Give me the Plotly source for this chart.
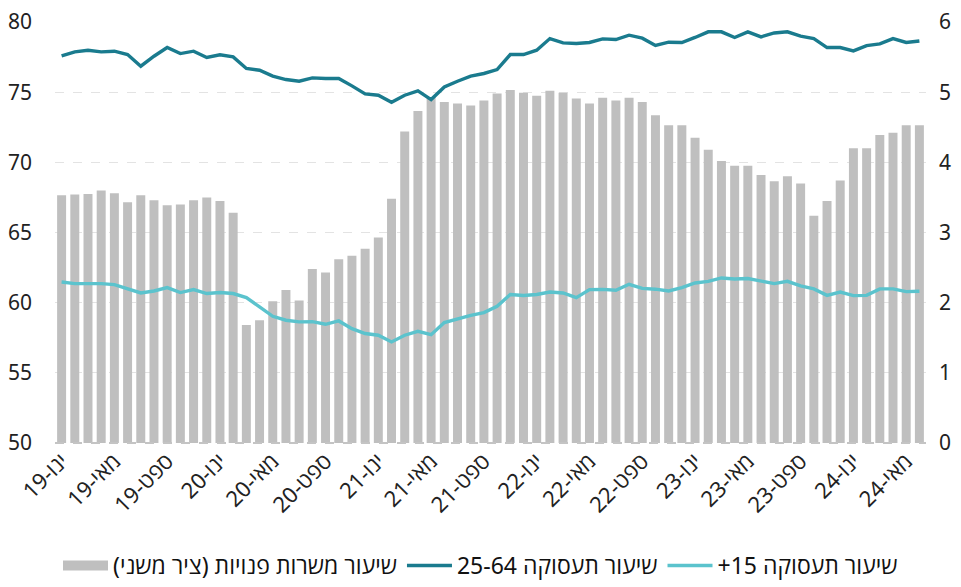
import plotly.graph_objects as go

month_names = ["ינו", "פבר", "מרץ", "אפר", "מאי", "יונ", "יול", "אוג", "ספט", "אוק", "נוב", "דצמ"]
years = ["19", "20", "21", "22", "23", "24"]
n_months = 66
categories = [f"{month_names[i % 12]}-{years[i // 12]}" for i in range(n_months)]

# job vacancy rate (secondary axis, right)
vacancy = [3.53, 3.54, 3.55, 3.60, 3.56, 3.43, 3.53, 3.46, 3.39, 3.40, 3.46, 3.50,
           3.45, 3.28, 1.68, 1.75, 2.02, 2.18, 2.03, 2.48, 2.43, 2.62, 2.67, 2.77,
           2.93, 3.48, 4.44, 4.73, 4.93, 4.86, 4.84, 4.81, 4.88, 4.98, 5.03, 4.99,
           4.95, 5.02, 4.99, 4.91, 4.84, 4.92, 4.88, 4.92, 4.86, 4.67, 4.53, 4.53,
           4.35, 4.18, 4.02, 3.95, 3.95, 3.82, 3.73, 3.80, 3.70, 3.24, 3.45, 3.74,
           4.20, 4.20, 4.39, 4.42, 4.53, 4.53]

# employment rate 25-64
emp_25_64 = [77.58, 77.87, 77.99, 77.87, 77.92, 77.68, 76.85, 77.56, 78.18, 77.75, 77.92, 77.47,
             77.66, 77.51, 76.69, 76.56, 76.14, 75.90, 75.78, 76.02, 75.97, 75.97, 75.45, 74.88,
             74.78, 74.28, 74.78, 75.09, 74.47, 75.37, 75.78, 76.14, 76.33, 76.61, 77.68, 77.68,
             77.99, 78.82, 78.51, 78.47, 78.54, 78.80, 78.75, 79.06, 78.85, 78.33, 78.56, 78.54,
             78.90, 79.30, 79.30, 78.90, 79.30, 78.94, 79.22, 79.30, 78.99, 78.82, 78.18, 78.18,
             77.94, 78.32, 78.44, 78.82, 78.54, 78.65]

# employment rate 15+
emp_15 = [61.47, 61.36, 61.36, 61.36, 61.29, 61.00, 60.69, 60.83, 61.07, 60.72, 60.93, 60.65,
          60.72, 60.65, 60.36, 59.70, 59.03, 58.75, 58.63, 58.65, 58.46, 58.70, 58.15, 57.80,
          57.68, 57.20, 57.68, 57.96, 57.72, 58.58, 58.87, 59.10, 59.29, 59.74, 60.58, 60.51,
          60.58, 60.76, 60.69, 60.36, 60.93, 60.95, 60.88, 61.31, 61.02, 60.96, 60.83, 61.07,
          61.40, 61.52, 61.76, 61.69, 61.72, 61.55, 61.36, 61.52, 61.19, 60.98, 60.52, 60.76,
          60.50, 60.52, 60.98, 60.98, 60.79, 60.81]

tick_step = 4
left_ticks = [50, 55, 60, 65, 70, 75, 80]
right_ticks = [0, 1, 2, 3, 4, 5, 6]

RLM = "\u200f"
name_vac = "שיעור משרות פנויות (ציר משני)" + RLM
name_2564 = "שיעור תעסוקה 25-64" + RLM
name_15 = "שיעור תעסוקה 15+" + RLM

FONT = "Noto Sans, Open Sans, DejaVu Sans, sans-serif"
GREY = "#bfbfbf"
DARK = "#1a7b8e"
LIGHT = "#5bc3cd"

fig = go.Figure()
# bars on primary (right side) axis so that lines (overlay axis) are drawn on top
fig.add_trace(go.Bar(x=categories, y=vacancy, name=name_vac, yaxis="y",
                     marker=dict(color=GREY, line=dict(width=0)), showlegend=False))
# legend stand-in for the bars: a wide grey block
fig.add_trace(go.Scatter(x=[None], y=[None], name=name_vac, mode="lines", yaxis="y",
                         line=dict(color=GREY, width=22)))
fig.add_trace(go.Scatter(x=categories, y=emp_25_64, name=name_2564, mode="lines", yaxis="y2",
                         line=dict(color=DARK, width=3.4)))
fig.add_trace(go.Scatter(x=categories, y=emp_15, name=name_15, mode="lines", yaxis="y2",
                         line=dict(color=LIGHT, width=3.4)))

fig.update_layout(
    width=961, height=587,
    margin=dict(l=55, r=35, t=22, b=144, autoexpand=False),
    plot_bgcolor="white", paper_bgcolor="white",
    font=dict(family=FONT, size=19, color="#222222"),
    bargap=0.32,
    showlegend=True,
    legend=dict(orientation="h", x=0.5, xanchor="center", xref="container",
                y=-0.034, yanchor="bottom", yref="container",
                font=dict(size=23, color="#111111"), traceorder="normal", itemwidth=45,
                bgcolor="rgba(0,0,0,0)"),
    xaxis=dict(
        type="category",
        range=[-0.5, n_months - 0.5],
        tickmode="array",
        tickvals=categories[::tick_step],
        ticktext=categories[::tick_step],
        showgrid=False, zeroline=False, showline=False, ticks="",
        tickfont=dict(size=22), automargin=False,
    ),
    yaxis=dict(
        range=[0, 6], tickvals=right_ticks, side="right",
        showgrid=True, gridcolor="#e3e3e3", griddash="dash", gridwidth=1,
        zeroline=False, showline=False, ticks="",
        tickfont=dict(size=21), ticklabelstandoff=12, automargin=False,
    ),
    yaxis2=dict(
        range=[50, 80], tickvals=left_ticks, side="left", overlaying="y",
        showgrid=False, zeroline=False, showline=False, ticks="",
        tickfont=dict(size=21), ticklabelstandoff=22, automargin=False,
    ),
    shapes=[dict(type="line", xref="paper", yref="paper", x0=0, x1=1, y0=0, y1=0,
                 line=dict(color="#c4c4c4", width=2, dash="dash"), layer="above")],
)
fig.update_xaxes(tickangle=-45)

fig.write_html("out.html", config={"displayModeBar": False},
               post_script="document.body.style.margin='0';document.body.style.overflow='hidden';")
